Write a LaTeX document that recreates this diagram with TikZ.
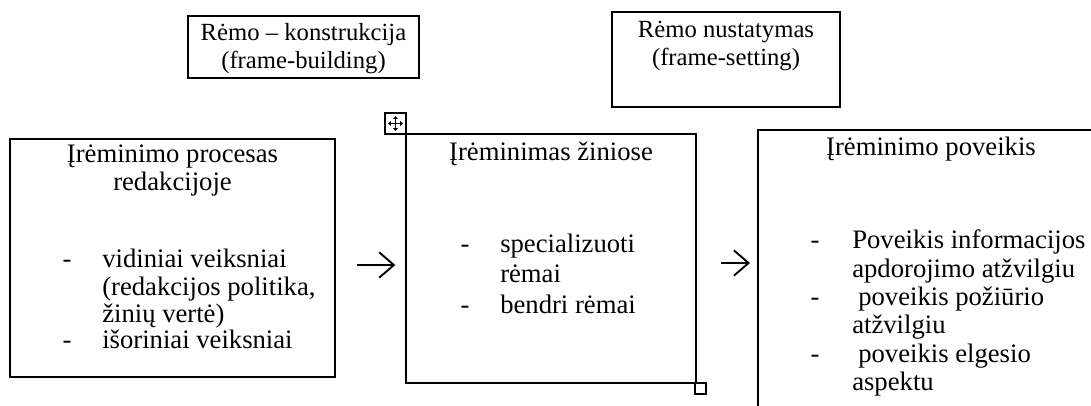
\documentclass[tikz,border=0pt]{standalone}
\usepackage{fontspec}
\setmainfont{Liberation Serif}
\usetikzlibrary{arrows.meta}
\begin{document}
\begin{tikzpicture}[x=0.75pt,y=-0.75pt,
  box/.style={draw, line width=1.2pt, inner sep=0pt, outer sep=0pt},
  lbl/.style={font=\fontsize{20}{24}\selectfont, inner sep=0pt, anchor=base},
  toplbl/.style={font=\fontsize{18.5}{22}\selectfont, inner sep=0pt, anchor=base},
  item/.style={lbl, anchor=base west},
  flow/.style={line width=1.4pt, -{Straight Barb[length=11pt,width=19pt,line width=1.4pt]}}
]
\useasboundingbox (0,0) rectangle (1091,405);
\clip (0,0) rectangle (1091,405);

% top boxes
\node[box, minimum width=231*0.75pt, minimum height=62*0.75pt] (fb) at (303.5,47) {};
\node[box, minimum width=228*0.75pt, minimum height=95*0.75pt] (fs) at (726,59.5) {};
\node[toplbl] (fbt1) at (303.5,40) {Rėmo – konstrukcija};
\node[toplbl] (fbt2) at (303.5,68) {(frame-building)};
\node[toplbl] (fst1) at (726,37) {Rėmo nustatymas};
\node[toplbl] (fst2) at (726,65) {(frame-setting)};

% main boxes
\node[box, minimum width=325*0.75pt, minimum height=238*0.75pt] (b1) at (172.5,258) {};
\node[box, minimum width=290*0.75pt, minimum height=249*0.75pt] (b2) at (551,258.5) {};
\node[box, minimum width=362*0.75pt, minimum height=300*0.75pt] (b3) at (939,280) {};

% box 1 text
\node[lbl] (t1a) at (172.5,162) {Įrėminimo procesas};
\node[lbl] (t1b) at (172.5,190) {redakcijoje};
\node[lbl] (d1a) at (67,267) {-};
\node[lbl] (d1b) at (67,348) {-};
\node[item] (i1a) at (102,267) {vidiniai veiksniai};
\node[item] (i1b) at (102,295) {(redakcijos politika,};
\node[item] (i1c) at (102,322) {žinių vertė)};
\node[item] (i1d) at (102,348) {išoriniai veiksniai};

% box 2 text
\node[lbl] (t2a) at (551,160) {Įrėminimas žiniose};
\node[lbl] (d2a) at (465,252) {-};
\node[lbl] (d2b) at (465,313) {-};
\node[item] (i2a) at (500,252) {specializuoti};
\node[item] (i2b) at (500,282) {rėmai};
\node[item] (i2c) at (500,313) {bendri rėmai};

% box 3 text
\node[lbl] (t3a) at (931,155) {Įrėminimo poveikis};
\node[lbl] (d3a) at (815,248) {-};
\node[lbl] (d3b) at (815,305) {-};
\node[lbl] (d3c) at (815,362) {-};
\node[item] (i3a) at (852,248) {Poveikis informacijos};
\node[item] (i3b) at (852,277) {apdorojimo atžvilgiu};
\node[item] (i3c) at (858,305) {poveikis požiūrio};
\node[item] (i3d) at (852,333) {atžvilgiu};
\node[item] (i3e) at (858,362) {poveikis elgesio};
\node[item] (i3f) at (852,390) {aspektu};

% arrows
\draw[flow, shorten <=16.5pt, shorten >=8pt] (b1.east |- 0,265) -- (b2.west |- 0,265);
\draw[flow, shorten <=18.5pt, shorten >=6pt] (b2.east |- 0,263) -- (b3.west |- 0,263);

% table handles
\node[draw, line width=0.9pt, fill=white, minimum size=21*0.75pt, inner sep=0pt, outer sep=0pt] (hd) at (395.5,123.5) {};
\draw[line width=0.6pt, {Triangle[length=2pt,width=3.5pt]}-{Triangle[length=2pt,width=3.5pt]}] ([xshift=-5.5pt]hd.center) -- ([xshift=5.5pt]hd.center);
\draw[line width=0.6pt, {Triangle[length=2pt,width=3.5pt]}-{Triangle[length=2pt,width=3.5pt]}] ([yshift=-5.5pt]hd.center) -- ([yshift=5.5pt]hd.center);
\node[draw, line width=0.9pt, fill=white, minimum size=11*0.75pt, inner sep=0pt, outer sep=0pt] (rs) at (700.5,388.5) {};
\end{tikzpicture}
\end{document}
